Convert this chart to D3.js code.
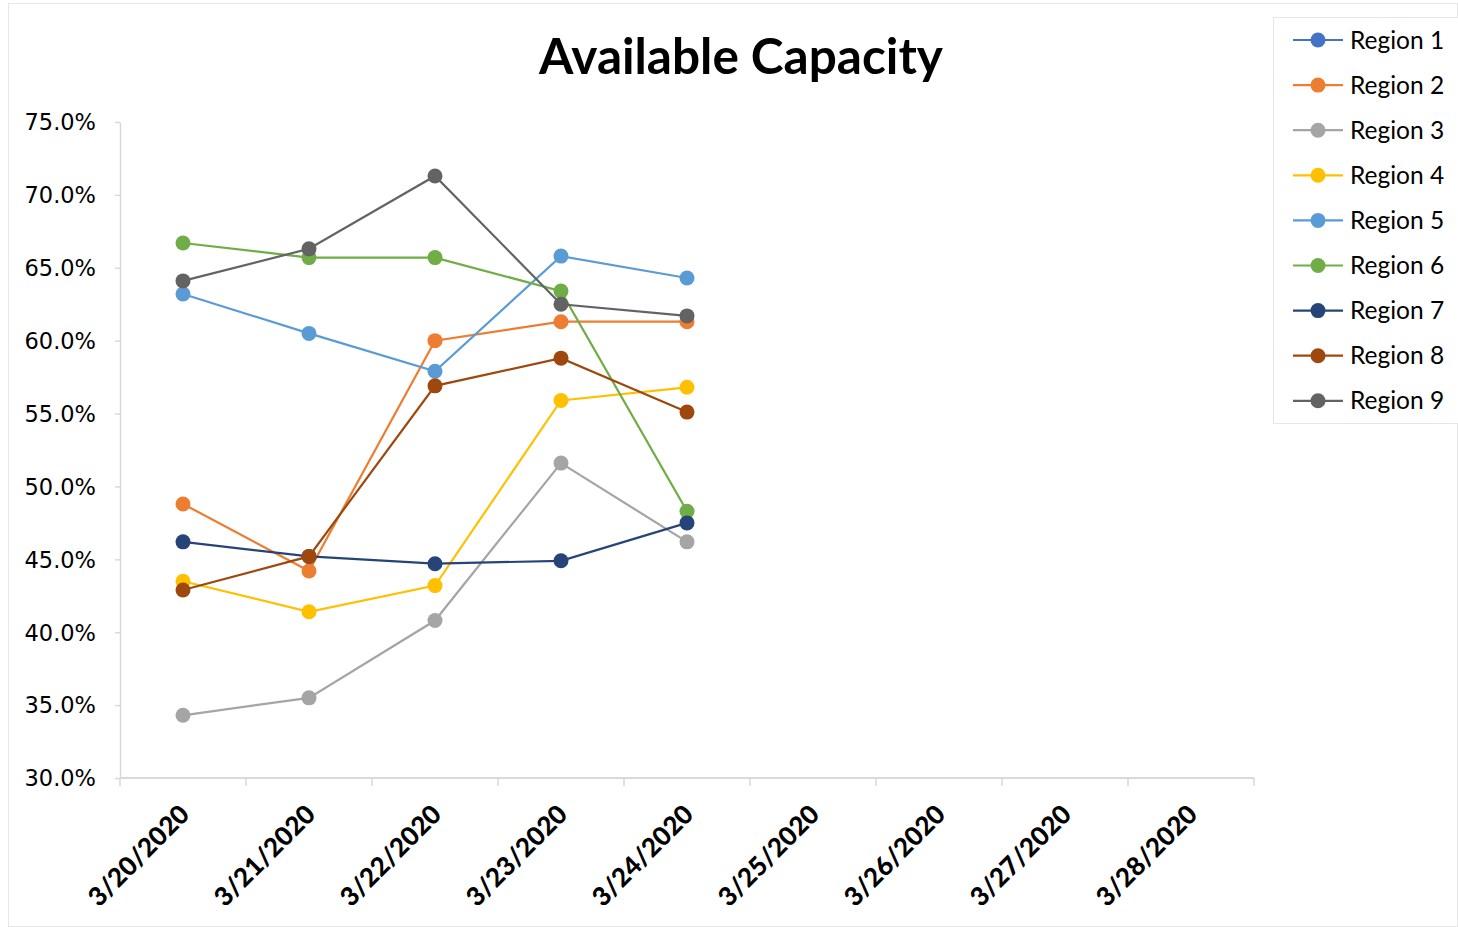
<!DOCTYPE html>
<html><head><meta charset="utf-8">
<script src="https://cdn.jsdelivr.net/npm/d3@7"></script>
<style>body{margin:0;background:#fff}svg{display:block}</style>
</head><body>
<script>
const title = "Available Capacity";
const categories = ["3/20/2020","3/21/2020","3/22/2020","3/23/2020","3/24/2020","3/25/2020","3/26/2020","3/27/2020","3/28/2020"];
const yTicks = [0.30,0.35,0.40,0.45,0.50,0.55,0.60,0.65,0.70,0.75];
const seriesNames = ["Region 1","Region 2","Region 3","Region 4","Region 5","Region 6","Region 7","Region 8","Region 9"];
const seriesColors = ["#4472C4","#ED7D31","#A5A5A5","#FFC000","#5B9BD5","#70AD47","#264478","#9E480E","#636363"];
const region1 = [];
const region2 = [0.488,0.442,0.600,0.613,0.613];
const region3 = [0.343,0.355,0.408,0.516,0.462];
const region4 = [0.435,0.414,0.432,0.559,0.568];
const region5 = [0.632,0.605,0.579,0.658,0.643];
const region6 = [0.667,0.657,0.657,0.634,0.483];
const region7 = [0.462,0.452,0.447,0.449,0.475];
const region8 = [0.429,0.452,0.569,0.588,0.551];
const region9 = [0.641,0.663,0.713,0.625,0.617];
const seriesValues = [region1,region2,region3,region4,region5,region6,region7,region8,region9];

const W = 1458, H = 927;
const svg = d3.select("body").append("svg").attr("width", W).attr("height", H);
svg.append("rect").attr("x",8.5).attr("y",3.5).attr("width",W-9).attr("height",H-4)
  .attr("fill","#fff").attr("stroke","#e6e6e6");

const pLeft = 120, pRight = 1254, pTop = 122, pBottom = 778;
const x = d3.scaleBand().domain(categories).range([pLeft, pRight]);
const y = d3.scaleLinear().domain([0.30, 0.75]).range([pBottom, pTop]);

// title
svg.append("text").attr("x", 741).attr("y", 74).attr("text-anchor","middle")
  .attr("font-family","Lato, 'Open Sans', sans-serif").attr("font-weight","bold")
  .attr("font-size", 49.5).attr("fill","#000").text(title);

// y axis
const yAxis = d3.axisLeft(y).tickValues(yTicks).tickFormat(d3.format(".1%")).tickSize(5).tickSizeOuter(0);
const gy = svg.append("g").attr("transform", `translate(${pLeft},0)`).call(yAxis);
gy.select(".domain").attr("stroke","#d9d9d9").attr("stroke-width",1.5);
gy.selectAll(".tick line").attr("stroke","#d9d9d9").attr("stroke-width",1.5);
gy.selectAll(".tick text").attr("font-family","'DejaVu Sans', Verdana, sans-serif")
  .attr("font-size",22.5).attr("fill","#000").attr("x",-24).attr("dy","0.35em");

// x axis
const gx = svg.append("g").attr("transform", `translate(0,${pBottom})`);
gx.append("line").attr("x1",pLeft).attr("x2",pRight).attr("stroke","#d9d9d9").attr("stroke-width",2);
const bounds = categories.map(c => x(c)).concat([pRight]);
gx.selectAll("line.tk").data(bounds).join("line").attr("class","tk")
  .attr("x1",d=>d).attr("x2",d=>d).attr("y1",0).attr("y2",8)
  .attr("stroke","#d9d9d9").attr("stroke-width",1.5);
gx.selectAll("text").data(categories).join("text")
  .attr("transform", d => `translate(${x(d)+x.bandwidth()/2+8},${38}) rotate(-45)`)
  .attr("text-anchor","end").attr("font-family","Lato, 'Open Sans', sans-serif")
  .attr("font-weight","900").attr("font-size",26).attr("fill","#000").text(d=>d);

// lines
const line = d3.line().x((d,i)=>x(categories[i])+x.bandwidth()/2).y(d=>y(d));
seriesValues.forEach((vals, si) => {
  const g = svg.append("g");
  if (vals.length) g.append("path").datum(vals).attr("d", line)
    .attr("fill","none").attr("stroke",seriesColors[si]).attr("stroke-width",2.2);
  g.selectAll("circle").data(vals).join("circle")
    .attr("cx",(d,i)=>x(categories[i])+x.bandwidth()/2).attr("cy",d=>y(d))
    .attr("r",7.5).attr("fill",seriesColors[si]);
});

// legend
const lg = svg.append("g");
lg.append("rect").attr("x",1273.5).attr("y",17.5).attr("width",190).attr("height",406)
  .attr("fill","#fff").attr("stroke","#e6e6e6");
seriesNames.forEach((n, i) => {
  const yy = 40 + i*45.1;
  lg.append("line").attr("x1",1293).attr("x2",1343).attr("y1",yy).attr("y2",yy)
    .attr("stroke",seriesColors[i]).attr("stroke-width",2.2);
  lg.append("circle").attr("cx",1318).attr("cy",yy).attr("r",7.5).attr("fill",seriesColors[i]);
  lg.append("text").attr("x",1350).attr("y",yy).attr("dy","0.35em")
    .attr("font-family","Lato, 'Open Sans', sans-serif").attr("font-size",24.5).attr("fill","#000").text(n);
});
</script>
</body></html>
